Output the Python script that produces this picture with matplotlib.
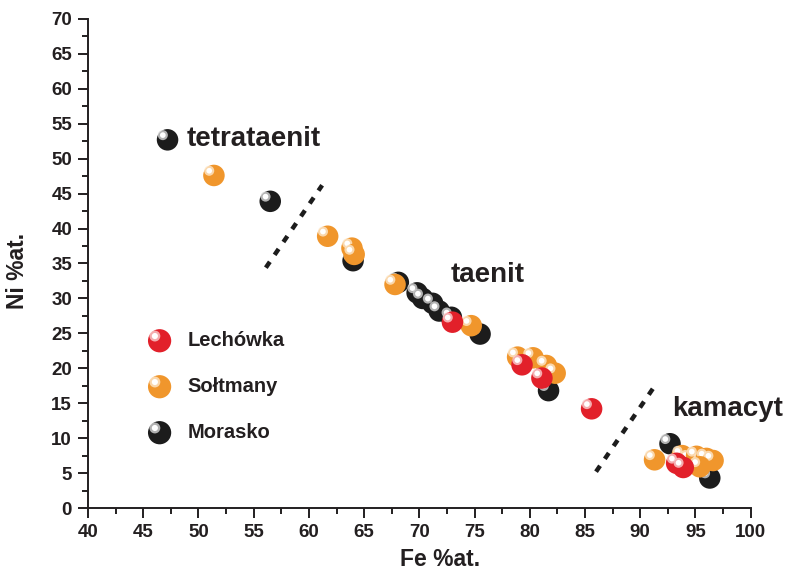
import matplotlib
matplotlib.use('Agg')
import matplotlib.pyplot as plt
import matplotlib.transforms as mtransforms
import numpy as np

plt.rcParams['font.family'] = ['Liberation Sans', 'DejaVu Sans']
plt.rcParams['font.weight'] = 'bold'

# Morasko (black)
morasko_fe = [47.2, 56.5, 64.0, 68.1, 69.8, 70.3, 71.2, 71.8, 72.9, 75.5, 81.7, 92.7, 96.3]
morasko_ni = [52.7, 43.9, 35.4, 32.3, 30.8, 30.0, 29.3, 28.2, 27.3, 24.9, 16.8, 9.2, 4.3]
# Sołtmany (orange)
soltmany_fe = [51.4, 61.7, 63.9, 64.1, 67.8, 74.7, 78.9, 80.3, 81.5, 82.3,
               91.3, 93.8, 94.5, 95.1, 95.7, 96.0, 96.6, 95.4]
soltmany_ni = [47.6, 38.9, 37.2, 36.3, 32.0, 26.1, 21.6, 21.5, 20.4, 19.3,
               6.9, 7.5, 6.9, 7.4, 6.5, 7.1, 6.8, 5.9]
# Lechówka (red)
lechowka_fe = [73.0, 79.3, 81.1, 85.6, 93.3, 93.9]
lechowka_ni = [26.6, 20.5, 18.6, 14.2, 6.4, 5.8]

series = [
    ('Morasko', morasko_fe, morasko_ni, '#1c1c1c', '#d8d8d8'),
    ('Sołtmany', soltmany_fe, soltmany_ni, '#f0962c', '#fde8cc'),
    ('Lechówka', lechowka_fe, lechowka_ni, '#e2202a', '#f9d0d0'),
]
ink = '#231f20'

fig = plt.figure(figsize=(7.86, 5.75), dpi=100)
ax = fig.add_axes([0.112, 0.1165, 0.843, 0.8505])

def sphere(ax, x, y, color, glow, size=240, transform=None):
    tr = transform if transform is not None else ax.transData
    ax.scatter(x, y, s=size, color=color, edgecolors='none', zorder=3, transform=tr)
    hl = mtransforms.offset_copy(tr, fig=fig, x=-3.4, y=3.4, units='points')
    ax.scatter(x, y, s=size * 0.22, color=glow, edgecolors='none', alpha=0.8,
               zorder=3, transform=hl)
    ax.scatter(x, y, s=size * 0.07, color='white', edgecolors='none',
               zorder=3, transform=hl)

for name, fe, ni, col, glow in series:
    for xi, yi in zip(fe, ni):
        sphere(ax, xi, yi, col, glow)

# boundary dashes
dash_x1 = [56.1, 61.2]
dash_y1 = [34.4, 46.2]
dash_x2 = [86.0, 91.2]
dash_y2 = [5.2, 17.2]
for dx, dy in [(dash_x1, dash_y1), (dash_x2, dash_y2)]:
    ax.plot(dx, dy, color='#1c1c1c', lw=3.2, ls=(0, (1.6, 1.9)), zorder=2)

ax.text(48.9, 52.8, 'tetrataenit', fontsize=20, fontweight='bold', color=ink, va='center')
ax.text(72.8, 33.3, 'taenit', fontsize=20, fontweight='bold', color=ink, va='center')
ax.text(92.9, 14.2, 'kamacyt', fontsize=20, fontweight='bold', color=ink, va='center')

# legend
leg_y = [0.342, 0.248, 0.154]
for (name, fe, ni, col, glow), ly in zip(reversed(series), leg_y):
    sphere(ax, [0.108], [ly], col, glow, size=280, transform=ax.transAxes)
    ax.text(0.150, ly, name, transform=ax.transAxes, fontsize=14.5, fontweight='bold',
            color=ink, va='center')

ax.set_xlim(40, 100)
ax.set_ylim(0, 70)
ax.set_xticks(np.arange(40, 101, 5))
ax.set_yticks(np.arange(0, 71, 5))
ax.set_xticks(np.arange(42.5, 100, 5), minor=True)
ax.set_yticks(np.arange(2.5, 70, 5), minor=True)
for s in ['top', 'right']:
    ax.spines[s].set_visible(False)
for s in ['left', 'bottom']:
    ax.spines[s].set_linewidth(1.4)
    ax.spines[s].set_color(ink)
ax.tick_params(which='major', length=7.5, width=1.4, color=ink,
               labelsize=13.5, labelcolor=ink, pad=4)
ax.tick_params(which='minor', length=4.5, width=1.4, color=ink)
for lab in ax.get_xticklabels() + ax.get_yticklabels():
    lab.set_fontweight('bold')

fig.text(440 / 786, 1 - 560 / 575, 'Fe %at.', fontsize=16.5, fontweight='bold',
         color=ink, ha='center', va='center')
fig.text(18 / 786, 1 - 271 / 575, 'Ni %at.', fontsize=16.5, fontweight='bold',
         color=ink, ha='center', va='center', rotation=90)

fig.savefig('out.png', dpi=100)
